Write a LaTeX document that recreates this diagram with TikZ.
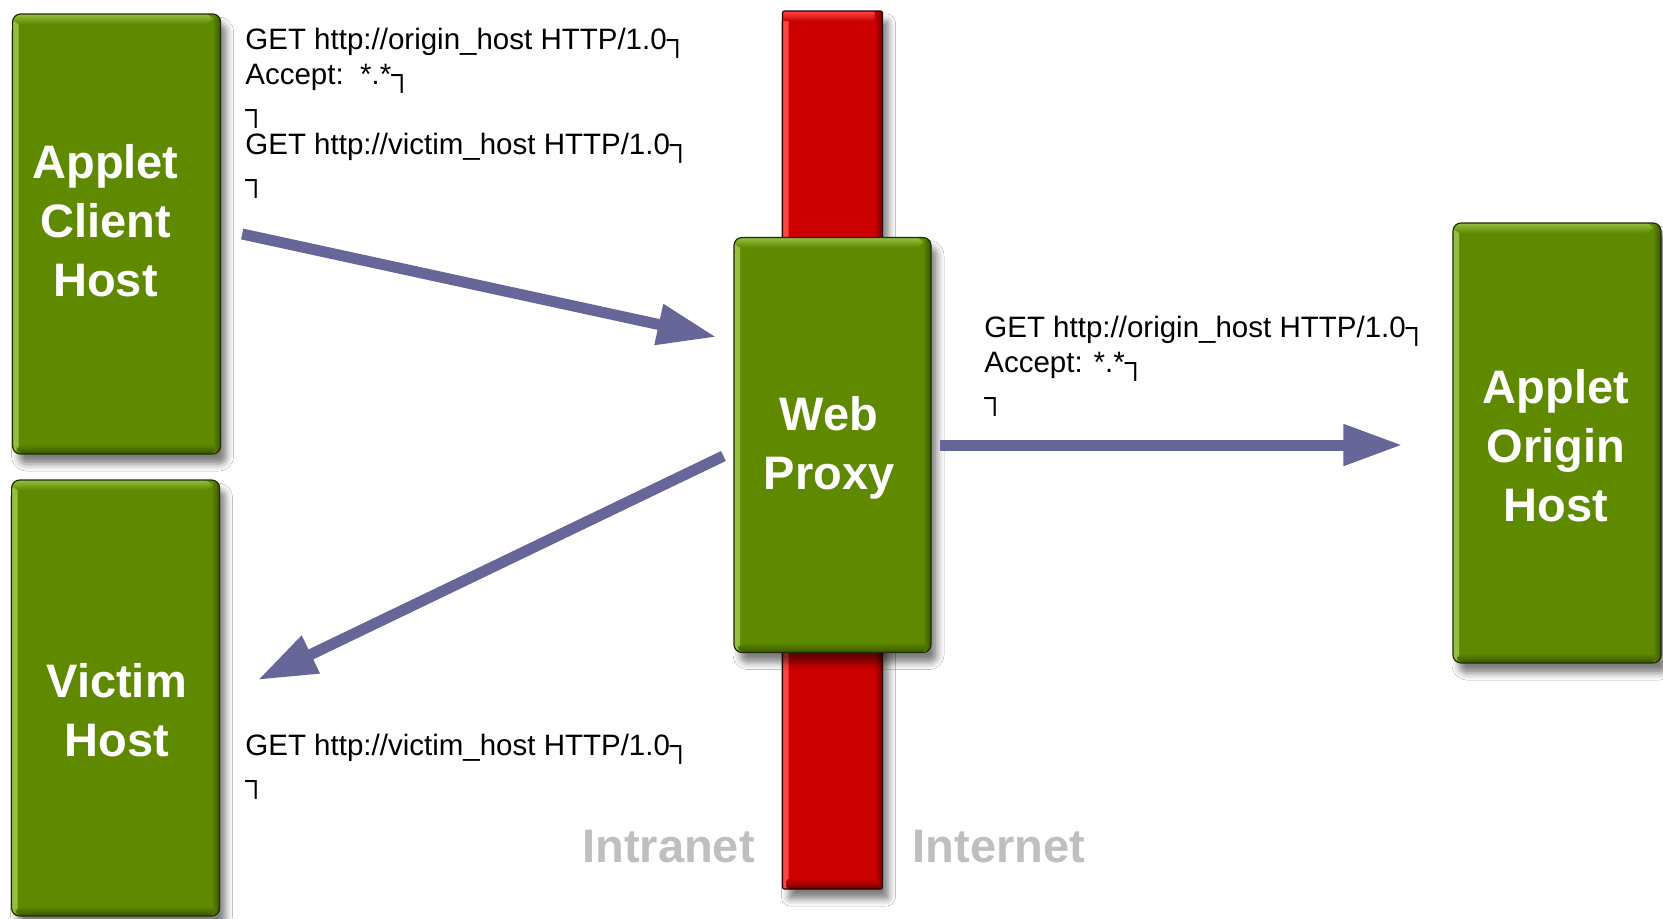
\documentclass[tikz,border=0pt]{standalone}
\usepackage{fontspec}
\setmainfont{Liberation Sans}
\usetikzlibrary{arrows.meta,shadows.blur}

\definecolor{hostgreen}{HTML}{5F8A00}
\definecolor{hostlight}{HTML}{93C040}
\definecolor{hostdark}{HTML}{3A5400}
\definecolor{hostedge}{HTML}{1E2C00}
\definecolor{wallred}{HTML}{CC0000}
\definecolor{walllight}{HTML}{FF4848}
\definecolor{walldark}{HTML}{700000}
\definecolor{walledge}{HTML}{300000}
\definecolor{flow}{HTML}{666699}
\definecolor{zonegray}{HTML}{BFBFBF}

\tikzset{
  % bevelled panel: light top/left rim, dark right/bottom rim
  bevel/.style n args={3}{
    path picture={
      \shade[left color=#1, right color=#2]
        (path picture bounding box.south west) rectangle ([xshift=3pt]path picture bounding box.north west);
      \shade[left color=#2, right color=#3]
        ([xshift=-4pt]path picture bounding box.south east) rectangle (path picture bounding box.north east);
      \shade[top color=#1, bottom color=#2]
        ([yshift=-5pt]path picture bounding box.north west) rectangle ([xshift=-4pt]path picture bounding box.north east);
      \shade[top color=#2, bottom color=#3]
        ([xshift=2pt]path picture bounding box.south west) rectangle ([xshift=-2pt,yshift=5pt]path picture bounding box.south east);
    }},
  softshadow/.style={
    blur shadow={shadow xshift=3pt, shadow yshift=-5pt, shadow blur radius=3.5pt, shadow opacity=50}},
  hostbox/.style={
    rounded corners=4pt, inner sep=0pt, fill=hostgreen, draw=hostedge, line width=0.6pt,
    minimum width=104pt, minimum height=220pt, softshadow,
    bevel={hostlight}{hostgreen}{hostdark}},
  wall/.style={
    rounded corners=1pt, inner sep=0pt, fill=wallred, draw=walledge, line width=0.6pt,
    minimum width=50pt, minimum height=439pt, softshadow,
    bevel={walllight}{wallred}{walldark}},
  hostlabel/.style={
    text=white, inner sep=0pt, align=center,
    font=\bfseries\fontsize{23.5}{29.5}\selectfont},
  zone/.style={
    text=zonegray, inner sep=0pt,
    font=\bfseries\fontsize{23.5}{29.5}\selectfont},
  reqtext/.style={
    anchor=north west, inner sep=0pt, align=left,
    font=\fontsize{14.75}{17.5}\selectfont},
  flowarrow/.style={
    draw=flow, line width=5.5pt,
    -{Triangle[length=29.5pt, width=19.5pt]}},
}

\begin{document}
\begin{tikzpicture}[x=0.5pt, y=-0.5pt]
  \useasboundingbox (0,0) rectangle (1663,918);
  \fill[white] (0,0) rectangle (1663,918);

  % firewall between intranet and internet
  \node[wall] (firewall) at (832.5,450) {};

  % hosts
  \node[hostbox] (client) at (116.6,234) {};
  \node[hostbox, minimum height=218pt] (victim) at (115.6,698) {};
  \node[hostbox, minimum width=98.5pt, minimum height=207.5pt] (proxy) at (832.5,445) {};
  \node[hostbox] (origin) at (1557,443) {};

  % host names
  \node[hostlabel] (clientname) at (105.5,221) {Applet\\Client\\Host};
  \node[hostlabel] (victimname) at (116.7,710) {Victim\\Host};
  \node[hostlabel] (proxyname) at (829,448) {Web\\Proxy};
  \node[hostlabel] (originname) at (1556,446) {Applet\\Origin\\Host};

  % zone captions
  \node[zone] (intranet) at (668.5,847) {Intranet};
  \node[zone] (internet) at (999,847) {Internet};

  % HTTP requests
  \node[reqtext] (reqclient) at (245,28)
    {GET http://origin\_host HTTP/1.0┐\\Accept:\ \ *.*┐\\┐\\GET http://victim\_host HTTP/1.0┐\\┐};
  \node[reqtext] (reqorigin) at (984,316)
    {GET http://origin\_host HTTP/1.0┐\\Accept: *.*┐\\┐};
  \node[reqtext] (reqvictim) at (245,734)
    {GET http://victim\_host HTTP/1.0┐\\┐};

  % request flow
  \draw[flowarrow] ([xshift=10.5pt]client.east) -- ([xshift=-8.5pt, yshift=54pt]proxy.west);
  \draw[flowarrow] ([xshift=-5pt, yshift=-5.5pt]proxy.west) -- ([xshift=18.75pt, yshift=9pt]victim.east);
  \draw[flowarrow] ([xshift=4pt]proxy.east) -- ([xshift=-25pt, yshift=-1pt]origin.west);
\end{tikzpicture}
\end{document}
